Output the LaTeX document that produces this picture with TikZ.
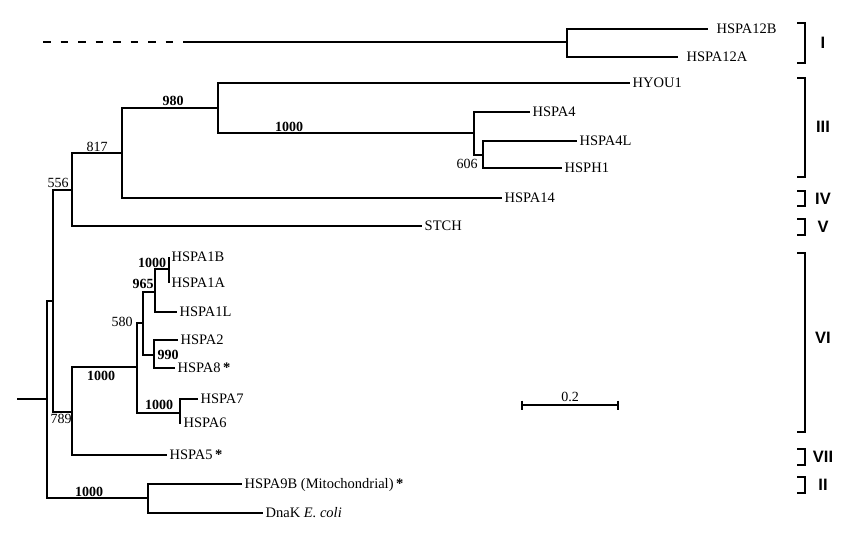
\documentclass[tikz,border=0pt]{standalone}
\usepackage{fontspec}
\setmainfont{Liberation Serif}
\newfontfamily\romfont{Liberation Sans}
\begin{document}
\begin{tikzpicture}[x=1pt,y=-1pt,line width=1.4pt,
  leaf/.style={anchor=base west,inner sep=0pt,xshift=2pt,yshift=-4.8pt,font=\fontsize{14.5}{16}\selectfont},
  boot/.style={inner sep=0pt,font=\fontsize{14}{16}\selectfont\bfseries},
  bootn/.style={inner sep=0pt,font=\fontsize{14}{16}\selectfont},
  grp/.style={inner sep=0pt,font=\romfont\bfseries\fontsize{16.5}{18}\selectfont},
  brk/.style={line width=1.4pt}]
\useasboundingbox[fill=white] (0,0) rectangle (851,542);
% internal nodes
\coordinate (R0) at (17,399);
\coordinate (R) at (47,399);
\coordinate (A) at (53,301);
\coordinate (N556) at (72,190);
\coordinate (N817) at (122,153);
\coordinate (N980) at (218,108);
\coordinate (N4) at (474,133);
\coordinate (N606) at (483,155);
\coordinate (N789) at (72,412);
\coordinate (N1000) at (137,367);
\coordinate (N580) at (143,323);
\coordinate (N965) at (155,292);
\coordinate (N1A) at (169,269);
\coordinate (N990) at (154,355);
\coordinate (N67) at (180,413);
\coordinate (N9) at (148,498);
\coordinate (T0) at (43,42);
\coordinate (T1) at (185,42);
\coordinate (N12) at (567,42);
% leaf ends
\coordinate (e12B) at (708,29);
\coordinate (e12A) at (678,57);
\coordinate (eHYOU) at (630,83);
\coordinate (e4) at (530,112);
\coordinate (e4L) at (577,141);
\coordinate (eH1) at (562,168);
\coordinate (e14) at (502,198);
\coordinate (eSTCH) at (422,226);
\coordinate (e1B) at (169,257);
\coordinate (e1A) at (169,283);
\coordinate (e1L) at (177,312);
\coordinate (e2) at (178,340);
\coordinate (e8) at (175,368);
\coordinate (e7) at (198,399);
\coordinate (e6) at (181,423);
\coordinate (e5) at (167,455);
\coordinate (e9B) at (242,484);
\coordinate (eDnaK) at (263,513);
% branches
\draw (R0) -- (R);
\draw (R) |- (A); \draw (R) |- (N9);
\draw (A) |- (N556); \draw (A) |- (N789);
\draw (N556) |- (N817); \draw (N556) |- (eSTCH);
\draw (N817) |- (N980); \draw (N817) |- (e14);
\draw (N980) |- (eHYOU); \draw (N980) |- (N4);
\draw (N4) |- (e4); \draw (N4) |- (N606);
\draw (N606) |- (e4L); \draw (N606) |- (eH1);
\draw (N789) |- (N1000); \draw (N789) |- (e5);
\draw (N1000) |- (N580); \draw (N1000) |- (N67);
\draw (N580) |- (N965); \draw (N580) |- (N990);
\draw (N965) |- (N1A); \draw (N965) |- (e1L);
\draw (N1A) |- (e1B); \draw (N1A) |- (e1A);
\draw (N990) |- (e2); \draw (N990) |- (e8);
\draw (N67) |- (e7); \draw (N67) |- (e6);
\draw (N9) |- (e9B); \draw (N9) |- (eDnaK);
\draw[dash pattern=on 7.5pt off 10pt] (T0) -- (T1);
\draw (T1) -- (N12);
\draw (N12) |- (e12B); \draw (N12) |- (e12A);
% leaf labels
\node[leaf,xshift=6pt] (l12B) at (e12B) {HSPA12B};
\node[leaf,xshift=6pt] (l12A) at (e12A) {HSPA12A};
\node[leaf] (lHYOU) at (eHYOU) {HYOU1};
\node[leaf] (l4) at (e4) {HSPA4};
\node[leaf] (l4L) at (e4L) {HSPA4L};
\node[leaf] (lH1) at (eH1) {HSPH1};
\node[leaf] (l14) at (e14) {HSPA14};
\node[leaf] (lSTCH) at (eSTCH) {STCH};
\node[leaf] (l1B) at (e1B) {HSPA1B};
\node[leaf] (l1A) at (e1A) {HSPA1A};
\node[leaf] (l1L) at (e1L) {HSPA1L};
\node[leaf] (l2) at (e2) {HSPA2};
\node[leaf] (l8) at (e8) {HSPA8\,\textbf{*}};
\node[leaf] (l7) at (e7) {HSPA7};
\node[leaf] (l6) at (e6) {HSPA6};
\node[leaf] (l5) at (e5) {HSPA5\,\textbf{*}};
\node[leaf] (l9B) at (e9B) {HSPA9B (Mitochondrial)\,\textbf{*}};
\node[leaf] (lDnaK) at (eDnaK) {DnaK \textit{E. coli}};
% bootstrap values
\node[boot] (b980) at (173,101) {980};
\node[boot] (b1000a) at (289,127) {1000};
\node[bootn] (b817) at (97,147) {817};
\node[bootn] (b556) at (58,183) {556};
\node[bootn] (b606) at (467,164) {606};
\node[boot] (b1000b) at (152,263) {1000};
\node[boot] (b965) at (143,284) {965};
\node[bootn] (b580) at (122,322) {580};
\node[boot] (b990) at (168,355) {990};
\node[boot] (b1000c) at (101,376) {1000};
\node[boot] (b1000d) at (159,405) {1000};
\node[bootn] (b789) at (61,419) {789};
\node[boot] (b1000e) at (89,492) {1000};
% scale bar
\coordinate (sL) at (522,405);
\coordinate (sR) at (618,405);
\draw (sL) -- (sR);
\draw ([yshift=4.5pt]sL) -- ([yshift=-4.5pt]sL);
\draw ([yshift=4.5pt]sR) -- ([yshift=-4.5pt]sR);
\node[bootn] (s02) at (570,397) {0.2};
% group brackets
\draw[brk] (797,23) -- (805,23) -- (805,63) -- (797,63);
\node[grp] (gI) at (823,43) {I};
\draw[brk] (797,78) -- (805,78) -- (805,177) -- (797,177);
\node[grp] (gIII) at (823,127) {III};
\draw[brk] (797,191) -- (805,191) -- (805,206) -- (797,206);
\node[grp] (gIV) at (823,199) {IV};
\draw[brk] (797,219) -- (805,219) -- (805,235) -- (797,235);
\node[grp] (gV) at (823,227) {V};
\draw[brk] (797,253) -- (805,253) -- (805,432) -- (797,432);
\node[grp] (gVI) at (823,338) {VI};
\draw[brk] (797,449) -- (805,449) -- (805,465) -- (797,465);
\node[grp] (gVII) at (823,457) {VII};
\draw[brk] (797,477) -- (805,477) -- (805,493) -- (797,493);
\node[grp] (gII) at (823,485) {II};
\end{tikzpicture}
\end{document}
